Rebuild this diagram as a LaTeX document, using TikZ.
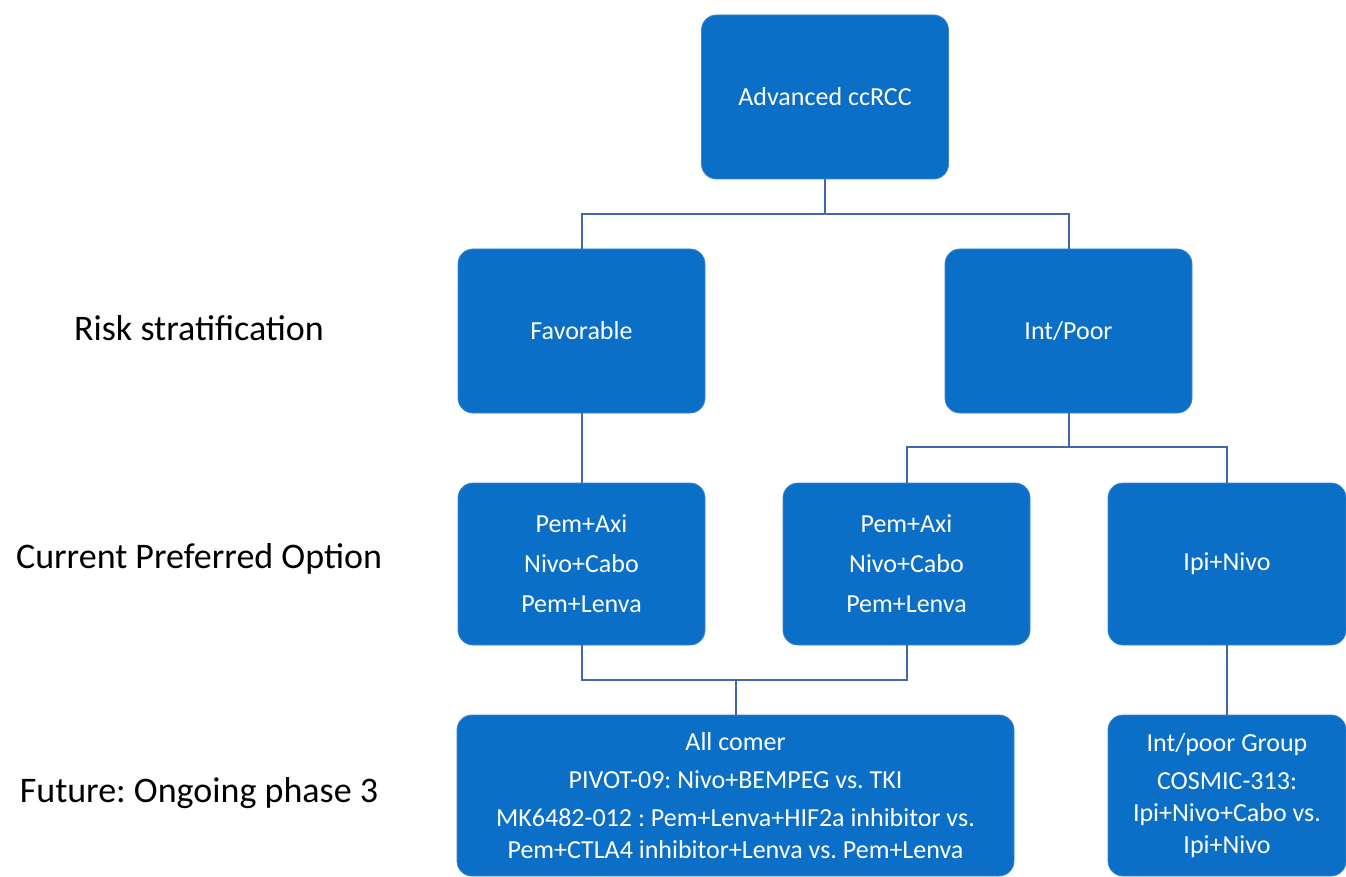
\documentclass[tikz,border=0pt]{standalone}
\usepackage{fontspec}
\setmainfont{Carlito}
\frenchspacing
\usetikzlibrary{positioning}
\definecolor{ccblue}{HTML}{0B6FC7}
\definecolor{ccedge}{HTML}{3D84CE}
\definecolor{cclink}{HTML}{4468B0}

\begin{document}
\begin{tikzpicture}[x=1pt, y=-1pt,
  blk/.style={fill=ccblue, draw=ccedge, line width=0.8pt, rounded corners=15pt,
    text=white, align=center, inner sep=0pt,
    minimum width=247pt, minimum height=164pt,
    font=\fontsize{26}{32}\selectfont},
  link/.style={draw=cclink, line width=2pt},
  lbl/.style={anchor=base, font=\fontsize{36}{42}\selectfont}]
\useasboundingbox (0,0) rectangle (1346,877);

% tree
\node[blk] (adv) at (825,97) {Advanced ccRCC};
\node[blk] (fav) at (581.5,331) {Favorable};
\node[blk] (intpoor) at (1068.5,331) {Int/Poor};
\node[blk, minimum height=162pt] (optfav) at (581.5,564)
  {Pem+Axi\\[8pt] Nivo+Cabo\\[8pt] Pem+Lenva};
\node[blk, minimum height=162pt] (optint) at (906.5,564)
  {Pem+Axi\\[8pt] Nivo+Cabo\\[8pt] Pem+Lenva};
\node[blk, minimum height=162pt, minimum width=238pt] (ipinivo) at (1227,564)
  {Ipi+Nivo};
\node[blk, minimum height=161pt, minimum width=557pt] (allcomer) at (735.5,795.5)
  {All comer\\[6pt] PIVOT-09: Nivo+BEMPEG vs. TKI\\[6pt]
   MK6482-012 : Pem+Lenva+HIF2a inhibitor vs.\\
   Pem+CTLA4 inhibitor+Lenva vs. Pem+Lenva};
\node[blk, minimum height=161pt, minimum width=238pt] (intgroup) at (1227,795.5)
  {Int/poor Group\\[6pt] COSMIC-313:\\ Ipi+Nivo+Cabo vs.\\ Ipi+Nivo};

% row labels
\node[lbl] (lrisk) at (199,340) {Risk stratification};
\node[lbl] (lcurrent) at (199,568) {Current Preferred Option};
\node[lbl] (lfuture) at (199,802) {Future: Ongoing phase 3};

% connectors
\coordinate (bustop) at (825,214);
\coordinate (busint) at (1068.5,447);
\coordinate (busopt) at (735.5,680);
\draw[link] (adv.south) -- (bustop) -| (fav.north);
\draw[link] (bustop) -| (intpoor.north);
\draw[link] (fav.south) -- (optfav.north);
\draw[link] (intpoor.south) -- (busint) -| (optint.north);
\draw[link] (busint) -| (ipinivo.north);
\draw[link] (optfav.south) |- (busopt) -- (allcomer.north);
\draw[link] (optint.south) |- (busopt);
\draw[link] (ipinivo.south) -- (intgroup.north);
\end{tikzpicture}
\end{document}
